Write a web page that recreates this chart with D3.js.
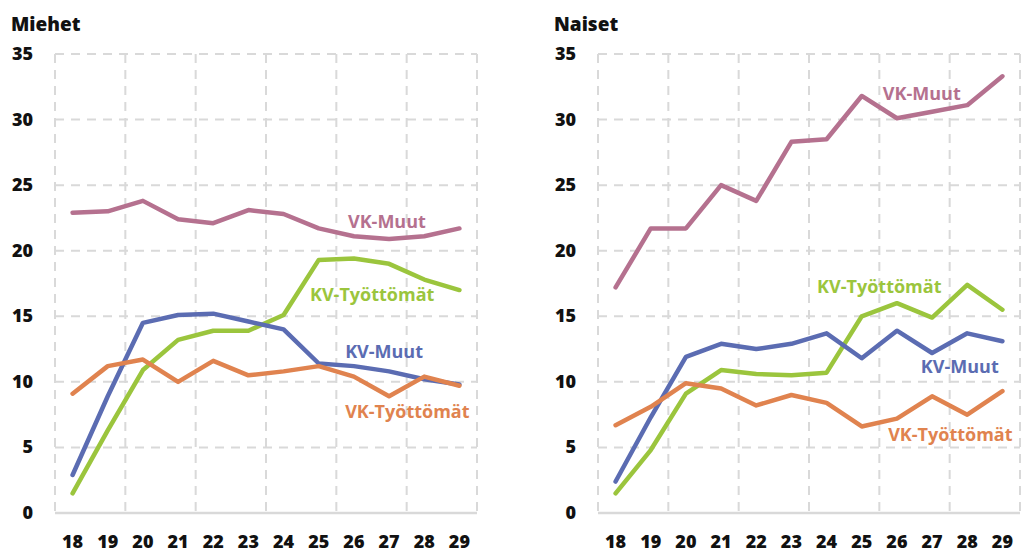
<!DOCTYPE html>
<html>
<head>
<meta charset="utf-8">
<script src="https://cdn.jsdelivr.net/npm/d3@7"></script>
<style>
    body { margin: 0; background: #fff; }
    svg { display: block; font-family: "Open Sans", "Noto Sans", sans-serif; }
    .tick-label { font-weight: 800; font-size: 18px; fill: #111; }
    .title { font-weight: 800; font-size: 19px; fill: #111; }
    .line-label { font-weight: 700; font-size: 18px; }
</style>
</head>
<body>
<script>
// ages on the x axis
const ages = ["18", "19", "20", "21", "22", "23", "24", "25", "26", "27", "28", "29"];
const yTicks = [0, 5, 10, 15, 20, 25, 30, 35];

const seriesNames = ["VK-Muut", "KV-Työttömät", "KV-Muut", "VK-Työttömät"];
const seriesColors = ["#b5718f", "#9bc53d", "#5b6cb2", "#e0834f"];

// Miehet
const menVkMuut = [22.9, 23.0, 23.8, 22.4, 22.1, 23.1, 22.8, 21.7, 21.1, 20.9, 21.1, 21.7];
const menKvTyottomat = [1.5, 6.3, 10.9, 13.2, 13.9, 13.9, 15.1, 19.3, 19.4, 19.0, 17.8, 17.0];
const menKvMuut = [2.9, 8.9, 14.5, 15.1, 15.2, 14.6, 14.0, 11.4, 11.2, 10.8, 10.2, 9.8];
const menVkTyottomat = [9.1, 11.2, 11.7, 10.0, 11.6, 10.5, 10.8, 11.2, 10.4, 8.9, 10.4, 9.7];

// Naiset
const womenVkMuut = [17.2, 21.7, 21.7, 25.0, 23.8, 28.3, 28.5, 31.8, 30.1, 30.6, 31.1, 33.3];
const womenKvTyottomat = [1.5, 4.8, 9.1, 10.9, 10.6, 10.5, 10.7, 15.0, 16.0, 14.9, 17.4, 15.5];
const womenKvMuut = [2.4, 7.3, 11.9, 12.9, 12.5, 12.9, 13.7, 11.8, 13.9, 12.2, 13.7, 13.1];
const womenVkTyottomat = [6.7, 8.1, 9.9, 9.5, 8.2, 9.0, 8.4, 6.6, 7.2, 8.9, 7.5, 9.3];

// where the series names sit: [band position, value]
const menLabelSpots = [[8.33, 21.7], [7.25, 16.2], [8.25, 11.8], [8.25, 7.25]];
const womenLabelSpots = [[8.1, 31.5], [6.23, 16.8], [9.18, 10.7], [8.25, 5.5]];

const width = 1024, height = 552;
const svg = d3.select("body").append("svg")
    .attr("width", width)
    .attr("height", height);

/**
 * Draws one panel
 */
function drawPanel(opts) {
    const g = svg.append("g");
    const x = d3.scaleBand().domain(ages).range([opts.left, opts.right]);
    const xl = d3.scaleLinear().domain([0, ages.length]).range([opts.left, opts.right]);
    const y = d3.scaleLinear().domain([0, 35]).range([513, 54]);

    // horizontal grid
    g.selectAll("line.hgrid").data(yTicks.filter(d => d > 0)).enter()
        .append("line").attr("class", "hgrid")
        .attr("x1", opts.left).attr("x2", opts.right)
        .attr("y1", d => y(d)).attr("y2", d => y(d))
        .attr("stroke", "#d9d9d9").attr("stroke-width", 2)
        .attr("stroke-dasharray", "9,7");

    // vertical grid, every second band edge
    const edges = d3.range(0, ages.length + 1, 2);
    g.selectAll("line.vgrid").data(edges).enter()
        .append("line").attr("class", "vgrid")
        .attr("x1", d => xl(d)).attr("x2", d => xl(d))
        .attr("y1", y(35)).attr("y2", y(0))
        .attr("stroke", "#d9d9d9").attr("stroke-width", 2)
        .attr("stroke-dasharray", "9,7");

    // baseline
    g.append("line")
        .attr("x1", opts.left).attr("x2", opts.right)
        .attr("y1", y(0)).attr("y2", y(0))
        .attr("stroke", "#d9d9d9").attr("stroke-width", 2.5);

    // y tick labels
    g.selectAll("text.ylab").data(yTicks).enter()
        .append("text").attr("class", "tick-label")
        .attr("x", opts.left - 22)
        .attr("y", d => y(d) + 6)
        .attr("text-anchor", "end")
        .text(d => d);

    // x tick labels
    g.selectAll("text.xlab").data(ages).enter()
        .append("text").attr("class", "tick-label")
        .attr("x", d => x(d) + x.bandwidth() / 2)
        .attr("y", 548)
        .attr("text-anchor", "middle")
        .text(d => d);

    g.append("text").attr("class", "title")
        .attr("x", opts.titleX).attr("y", 31)
        .text(opts.title);

    const line = d3.line()
        .x((d, i) => x(ages[i]) + x.bandwidth() / 2)
        .y(d => y(d));

    opts.series.forEach((s, i) => {
        g.append("path")
            .attr("d", line(s))
            .attr("fill", "none")
            .attr("stroke", seriesColors[i])
            .attr("stroke-width", 4.5)
            .attr("stroke-linejoin", "round")
            .attr("stroke-linecap", "round");
    });

    opts.labels.forEach((p, i) => {
        g.append("text").attr("class", "line-label")
            .attr("x", xl(p[0]))
            .attr("y", y(p[1]))
            .attr("fill", seriesColors[i])
            .text(seriesNames[i]);
    });
}

drawPanel({
    title: "Miehet", titleX: 11, left: 55, right: 477,
    series: [menVkMuut, menKvTyottomat, menKvMuut, menVkTyottomat],
    labels: menLabelSpots
});
drawPanel({
    title: "Naiset", titleX: 554, left: 598, right: 1020,
    series: [womenVkMuut, womenKvTyottomat, womenKvMuut, womenVkTyottomat],
    labels: womenLabelSpots
});
</script>
</body>
</html>
